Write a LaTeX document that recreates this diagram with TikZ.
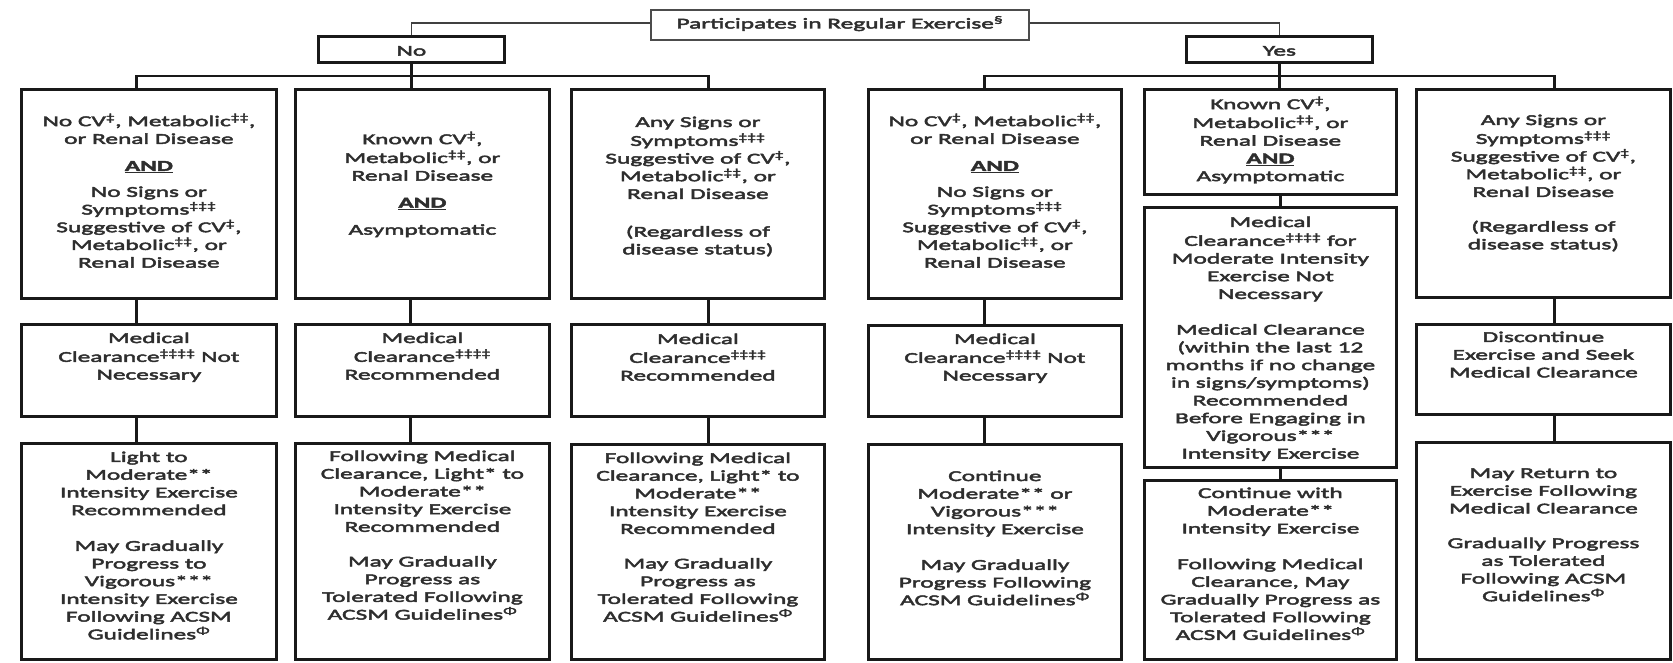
\documentclass[tikz,border=0pt]{standalone}
\usepackage{fontspec}
\setmainfont{Carlito}[FakeStretch=1.69, FakeBold=3]
\usetikzlibrary{calc}
\newcommand\sps[1]{\textsuperscript{#1}}
\newcommand\bt[4]{\parbox[c][#2pt][t]{#1pt}{\vspace*{#3pt}\centering\strut#4\strut\par}}
\newcommand\AND{\underline{\textbf{AND}}}
\tikzset{
  box/.style={draw=black!90, line width=2.8pt, inner sep=0pt, anchor=north west,
    font=\fontsize{15pt}{17.7pt}\selectfont, text=black!82},
  topbox/.style={box, line width=1.8pt, draw=black!70},
  conn/.style={line width=2.8pt, draw=black!90},
  tconn/.style={line width=1.8pt, draw=black!75},
}
\begin{document}
\begin{tikzpicture}[x=1pt,y=-1pt]
\fill[white] (0,0) rectangle (1673,662);
\useasboundingbox (0,0) rectangle (1673,662);

% top level
\node[topbox] (T) at (650,9) {\bt{378}{30}{6.2}{Participates in Regular Exercise\sps{§}}};
\node[box] (No) at (317,35) {\bt{186}{26}{6.9}{No}};
\node[box] (Yes) at (1185,35) {\bt{186}{26}{6.9}{Yes}};

% row 1
\node[box] (B1) at (20,88) {\bt{255}{209}{24.2}{No CV\sps{‡}, Metabolic\sps{‡‡},\\ or Renal Disease\\[9.3pt] \AND\\[8.3pt] No Signs or\\ Symptoms\sps{‡‡‡}\\ Suggestive of CV\sps{‡},\\ Metabolic\sps{‡‡}, or\\ Renal Disease}};
\node[box] (B2) at (294,88) {\bt{254}{209}{42.2}{Known CV\sps{‡},\\ Metabolic\sps{‡‡}, or\\ Renal Disease\\[9.3pt] \AND\\[9.3pt] Asymptomatic}};
\node[box] (B3) at (570,88) {\bt{253}{209}{25.2}{Any Signs or\\ Symptoms\sps{‡‡‡}\\ Suggestive of CV\sps{‡},\\ Metabolic\sps{‡‡}, or\\ Renal Disease\\[20pt] (Regardless of\\ disease status)}};
\node[box] (B4) at (867,88) {\bt{253}{209}{24.2}{No CV\sps{‡}, Metabolic\sps{‡‡},\\ or Renal Disease\\[9.3pt] \AND\\[8.3pt] No Signs or\\ Symptoms\sps{‡‡‡}\\ Suggestive of CV\sps{‡},\\ Metabolic\sps{‡‡}, or\\ Renal Disease}};
\node[box] (B5) at (1143,88) {\bt{252}{105}{7.2}{Known CV\sps{‡},\\ Metabolic\sps{‡‡}, or\\ Renal Disease\\ \AND\\ Asymptomatic}};
\node[box] (B6) at (1415,88) {\bt{254}{208}{23.2}{Any Signs or\\ Symptoms\sps{‡‡‡}\\ Suggestive of CV\sps{‡},\\ Metabolic\sps{‡‡}, or\\ Renal Disease\\[17pt] (Regardless of\\ disease status)}};

% row 2
\node[box] (C1) at (20,323) {\bt{255}{92}{6.2}{Medical\\ Clearance\sps{‡‡‡‡} Not\\ Necessary}};
\node[box] (C2) at (294,323) {\bt{254}{92}{6.2}{Medical\\ Clearance\sps{‡‡‡‡}\\ Recommended}};
\node[box] (C3) at (570,323) {\bt{253}{92}{7.2}{Medical\\ Clearance\sps{‡‡‡‡}\\ Recommended}};
\node[box] (C4) at (867,324) {\bt{253}{91}{6.2}{Medical\\ Clearance\sps{‡‡‡‡} Not\\ Necessary}};
\node[box] (C5) at (1143,206) {\bt{252}{260}{7.2}{Medical\\ Clearance\sps{‡‡‡‡} for\\ Moderate Intensity\\ Exercise Not\\ Necessary\\[18pt] Medical Clearance\\ (within the last 12\\ months if no change\\ in signs/symptoms)\\ Recommended\\ Before Engaging in\\ Vigorous***\\ Intensity Exercise}};
\node[box] (C6) at (1415,323) {\bt{254}{90}{5.2}{Discontinue\\ Exercise and Seek\\ Medical Clearance}};

% row 3
\node[box] (D1) at (20,442) {\bt{255}{216}{6.2}{Light to\\ Moderate**\\ Intensity Exercise\\ Recommended\\[18pt] May Gradually\\ Progress to\\ Vigorous***\\ Intensity Exercise\\ Following ACSM\\ Guidelines\sps{Φ}}};
\node[box] (D2) at (294,442) {\bt{254}{216}{5.2}{Following Medical\\ Clearance, Light* to\\ Moderate**\\ Intensity Exercise\\ Recommended\\[17pt] May Gradually\\ Progress as\\ Tolerated Following\\ ACSM Guidelines\sps{Φ}}};
\node[box] (D3) at (570,443) {\bt{253}{215}{6.2}{Following Medical\\ Clearance, Light* to\\ Moderate**\\ Intensity Exercise\\ Recommended\\[17pt] May Gradually\\ Progress as\\ Tolerated Following\\ ACSM Guidelines\sps{Φ}}};
\node[box] (D4) at (867,443) {\bt{253}{215}{24.2}{Continue\\ Moderate** or\\ Vigorous***\\ Intensity Exercise\\[18pt] May Gradually\\ Progress Following\\ ACSM Guidelines\sps{Φ}}};
\node[box] (D5) at (1143,479) {\bt{252}{179}{5.2}{Continue with\\ Moderate**\\ Intensity Exercise\\[18pt] Following Medical\\ Clearance, May\\ Gradually Progress as\\ Tolerated Following\\ ACSM Guidelines\sps{Φ}}};
\node[box] (D6) at (1415,441) {\bt{254}{217}{23.2}{May Return to\\ Exercise Following\\ Medical Clearance\\[17pt] Gradually Progress\\ as Tolerated\\ Following ACSM\\ Guidelines\sps{Φ}}};

% connectors from top
\draw[tconn] ([yshift=2pt]T.west) -| (No.north);
\draw[tconn] ([yshift=2pt]T.east) -| (Yes.north);

% No branch
\draw[conn] (No.south) -- (No.south |- B2.north);
\draw[conn] ([xshift=-12.5pt]B1.north) |- ($(No.south)!.5!(No.south |- B1.north)$) -| ([xshift=10.5pt]B3.north);
% Yes branch
\draw[conn] (Yes.south) -- (Yes.south |- B5.north);
\draw[conn] ([xshift=-10.5pt]B4.north) |- ($(Yes.south)!.5!(Yes.south |- B4.north)$) -| ([xshift=11pt]B6.north);

% row connectors
\draw[conn] ([xshift=-12.5pt]B1.south) -- ([xshift=-12.5pt]C1.north);
\draw[conn] ([xshift=-12pt]B2.south) -- ([xshift=-12pt]C2.north);
\draw[conn] ([xshift=10.5pt]B3.south) -- ([xshift=10.5pt]C3.north);
\draw[conn] ([xshift=-10.5pt]B4.south) -- ([xshift=-10.5pt]C4.north);
\draw[conn] ([xshift=10pt]B5.south) -- ([xshift=10pt]C5.north);
\draw[conn] ([xshift=11pt]B6.south) -- ([xshift=11pt]C6.north);

\draw[conn] ([xshift=-12.5pt]C1.south) -- ([xshift=-12.5pt]D1.north);
\draw[conn] ([xshift=-12pt]C2.south) -- ([xshift=-12pt]D2.north);
\draw[conn] ([xshift=10.5pt]C3.south) -- ([xshift=10.5pt]D3.north);
\draw[conn] ([xshift=-10.5pt]C4.south) -- ([xshift=-10.5pt]D4.north);
\draw[conn] ([xshift=10pt]C5.south) -- ([xshift=10pt]D5.north);
\draw[conn] ([xshift=11pt]C6.south) -- ([xshift=11pt]D6.north);
\end{tikzpicture}
\end{document}
